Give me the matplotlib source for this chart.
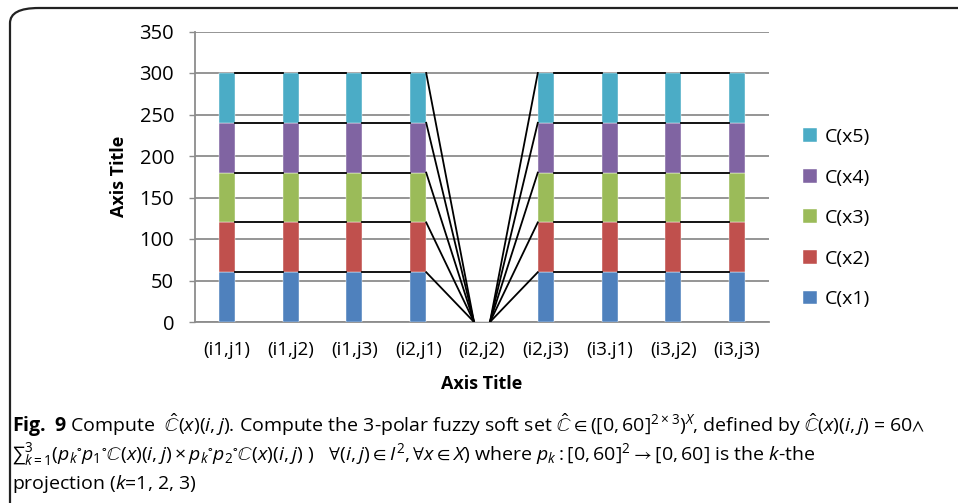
import matplotlib
matplotlib.use('Agg')
import matplotlib.pyplot as plt
import numpy as np
from matplotlib.patches import FancyBboxPatch

plt.rcParams['font.family'] = ['Open Sans', 'DejaVu Sans']
plt.rcParams['mathtext.fontset'] = 'custom'
plt.rcParams['mathtext.rm'] = 'Open Sans'
plt.rcParams['mathtext.it'] = 'Open Sans:italic'
plt.rcParams['mathtext.bf'] = 'Open Sans:bold'
plt.rcParams['mathtext.fallback'] = 'stix'

# data
categories = ['(i1,j1)', '(i1,j2)', '(i1,j3)', '(i2,j1)', '(i2,j2)',
              '(i2,j3)', '(i3.j1)', '(i3,j2)', '(i3,j3)']
cx1 = [60, 60, 60, 60, 0, 60, 60, 60, 60]
cx2 = [60, 60, 60, 60, 0, 60, 60, 60, 60]
cx3 = [60, 60, 60, 60, 0, 60, 60, 60, 60]
cx4 = [60, 60, 60, 60, 0, 60, 60, 60, 60]
cx5 = [60, 60, 60, 60, 0, 60, 60, 60, 60]
series = [cx1, cx2, cx3, cx4, cx5]
labels = ['C(x1)', 'C(x2)', 'C(x3)', 'C(x4)', 'C(x5)']
colors = ['#4F81BD', '#C0504D', '#9BBB59', '#8064A2', '#4BACC6']

fig = plt.figure(figsize=(9.58, 5.03), dpi=100)
ax = fig.add_axes([195/958, 1-322/503, 574/958, 290.5/503])

x = np.arange(len(categories))
w = 0.25
bottom = np.zeros(len(categories))
handles = []
for vals, lab, col in zip(series, labels, colors):
    vals = np.array(vals)
    b = ax.bar(x, vals, w, bottom=bottom, color=col, label=lab,
               edgecolor='white', linewidth=0.3, zorder=3)
    handles.append(b)
    top = bottom + vals
    # series lines between adjacent stacks
    for i in range(len(x) - 1):
        ax.plot([x[i] + w/2, x[i+1] - w/2], [top[i], top[i+1]],
                color='black', lw=1.3, zorder=4)
    bottom = top

ax.set_xlim(-0.5, len(categories) - 0.5)
ax.set_ylim(0, 350)
ax.set_yticks(range(0, 351, 50))
ax.set_xticks(x)
ax.set_xticklabels(categories, fontsize=13.5)
ax.yaxis.grid(True, color='#8C8C8C', lw=1.3, zorder=0)
ax.set_axisbelow(True)
for s in ['top', 'right']:
    ax.spines[s].set_visible(False)
for s in ['left', 'bottom']:
    ax.spines[s].set_color('#8C8C8C')
    ax.spines[s].set_linewidth(1.3)
ax.tick_params(axis='y', length=4, color='#8C8C8C', width=1, pad=11, labelsize=14.5)
ax.tick_params(axis='x', length=0, pad=14)
ax.set_xlabel('Axis Title', fontsize=13, fontweight='bold', labelpad=11)
ax.set_ylabel('Axis Title', fontsize=13, fontweight='bold', labelpad=8)

ax.legend(handles[::-1], labels[::-1], loc='upper left',
          bbox_to_anchor=(803/958, 1-128/503), bbox_transform=fig.transFigure,
          frameon=False, fontsize=14, handlelength=0.7, handleheight=0.7,
          handletextpad=0.4, labelspacing=1.16, borderpad=0, borderaxespad=0)

# frame
frame = FancyBboxPatch((10/958, -0.05), 1.2, 1 - 8/503 + 0.05,
                       boxstyle='round,pad=0,rounding_size=0.03',
                       transform=fig.transFigure, fill=False,
                       edgecolor='#222222', lw=1.6, clip_on=False)
fig.patches.append(frame)

cap1 = (r'$\mathbf{Fig.\ 9}$ Compute  $\hat{\mathbb{C}}(x)(i,j)$. Compute the 3-polar fuzzy soft set '
        r'$\hat{\mathbb{C}}\in([0,60]^{2\times3})^{X}$, defined by $\hat{\mathbb{C}}(x)(i,j)$ = 60$\wedge$')
cap2 = (r'${\sum}_{k=1}^{3}(p_k{}^{\circ}p_1{}^{\circ}\mathbb{C}(x)(i,j)\times p_k{}^{\circ}p_2{}^{\circ}\mathbb{C}(x)(i,j)\ )$'
        r'   $\forall(i,j)\in I^2,\forall x\in X)$ where $p_k:[0,60]^2\rightarrow[0,60]$ is the $k$-the')
cap3 = r'projection ($k$=1, 2, 3)'
fig.text(12/958, 1-425/503, cap1, fontsize=14, va='center', ha='left')
fig.text(12/958, 1-455/503, cap2, fontsize=14, va='center', ha='left')
fig.text(12/958, 1-484/503, cap3, fontsize=14, va='center', ha='left')

fig.savefig('out.png', dpi=100)
